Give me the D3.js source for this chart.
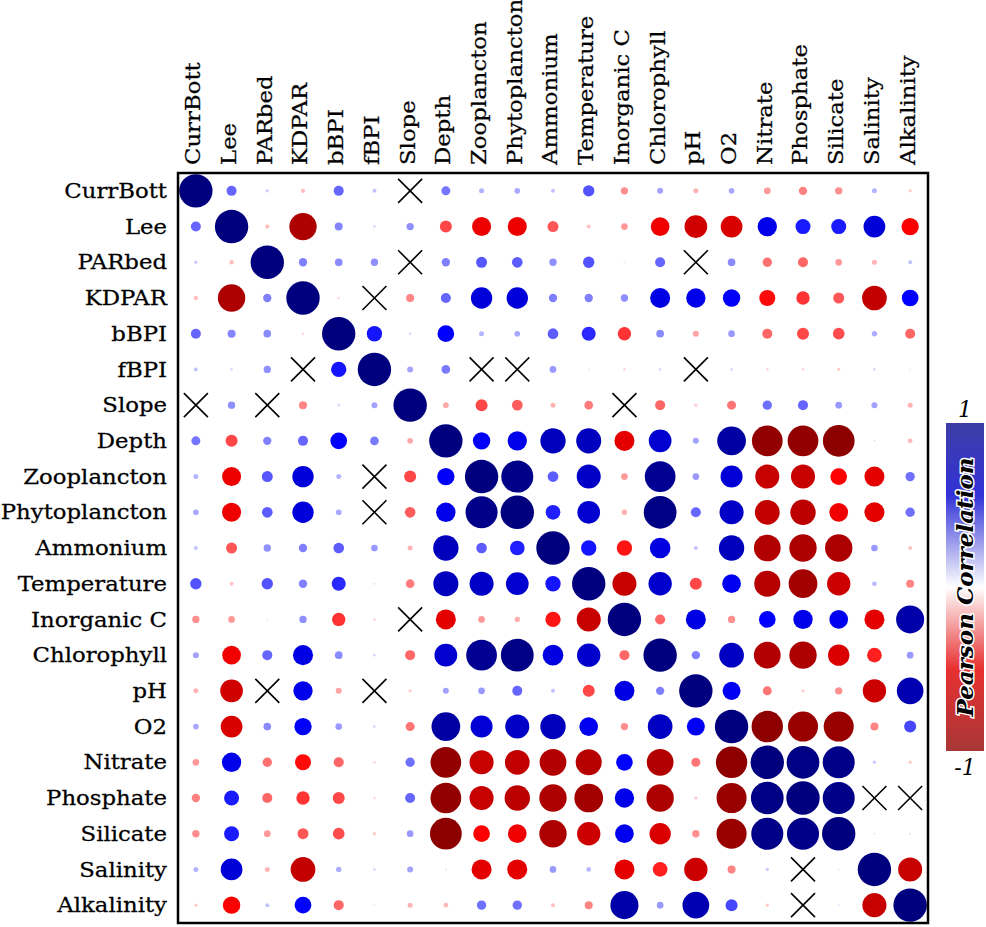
<!DOCTYPE html>
<html>
<head>
<meta charset="utf-8">
<script src="https://cdn.jsdelivr.net/npm/d3@7.9.0/dist/d3.min.js"></script>
<style>
  html, body { margin: 0; padding: 0; background: #fff; }
  svg { display: block; }
  .lbl { font-family: "DejaVu Serif", serif; font-size: 20px; fill: #000; stroke: #000; stroke-width: 0.25px; }
</style>
</head>
<body>
<div id="chart"></div>
<script>
const variables = ['CurrBott', 'Lee', 'PARbed', 'KDPAR', 'bBPI', 'fBPI', 'Slope', 'Depth',
  'Zooplancton', 'Phytoplancton', 'Ammonium', 'Temperature', 'Inorganic C', 'Chlorophyll',
  'pH', 'O2', 'Nitrate', 'Phosphate', 'Silicate', 'Salinity', 'Alkalinity'];

// null = not significant (drawn as a cross)
const corrRows = [
  [1, 0.30, 0.10, -0.13, 0.30, 0.12, null, 0.27, 0.15, 0.17, 0.12, 0.34, -0.22, 0.18, -0.15, 0.17, -0.20, -0.25, -0.22, 0.15, -0.10],
  [0.30, 1, -0.13, -0.82, 0.24, 0.08, 0.22, -0.36, -0.57, -0.57, -0.33, -0.12, -0.20, -0.56, -0.68, -0.65, 0.58, 0.45, 0.45, 0.65, -0.52],
  [0.10, -0.13, 1, 0.25, 0.23, 0.22, null, 0.25, 0.33, 0.32, 0.22, 0.34, -0.06, 0.30, null, 0.23, -0.28, -0.30, -0.20, -0.15, 0.12],
  [-0.13, -0.82, 0.25, 1, -0.08, null, -0.24, 0.30, 0.64, 0.64, 0.25, 0.25, 0.22, 0.60, 0.58, 0.52, -0.48, -0.40, -0.33, -0.74, 0.50],
  [0.30, 0.24, 0.23, -0.08, 1, 0.46, 0.08, 0.50, 0.15, 0.17, 0.32, 0.42, -0.40, 0.23, -0.18, 0.20, -0.30, -0.36, -0.35, 0.16, -0.30],
  [0.12, 0.08, 0.22, null, 0.46, 1, 0.18, 0.26, null, null, 0.20, 0.06, -0.08, 0.08, null, 0.08, -0.08, -0.08, -0.10, 0.08, -0.06],
  [null, 0.22, null, -0.24, 0.08, 0.18, 1, -0.17, -0.36, -0.32, -0.15, -0.26, null, -0.30, -0.10, -0.27, 0.28, 0.30, 0.20, 0.18, -0.15],
  [0.27, -0.36, 0.25, 0.30, 0.50, 0.26, -0.17, 1, 0.52, 0.58, 0.76, 0.75, -0.60, 0.68, 0.18, 0.86, -0.92, -0.92, -0.95, 0.06, -0.14],
  [0.15, -0.57, 0.33, 0.64, 0.15, null, -0.36, 0.52, 1, 0.96, 0.32, 0.72, -0.20, 0.92, 0.20, 0.66, -0.72, -0.72, -0.50, -0.60, 0.28],
  [0.17, -0.57, 0.32, 0.64, 0.17, null, -0.32, 0.58, 0.96, 1, 0.44, 0.68, -0.16, 0.98, 0.30, 0.72, -0.74, -0.76, -0.56, -0.60, 0.28],
  [0.12, -0.33, 0.22, 0.25, 0.32, 0.20, -0.15, 0.76, 0.32, 0.44, 1, 0.46, -0.46, 0.62, 0.12, 0.76, -0.80, -0.82, -0.82, 0.20, -0.12],
  [0.34, -0.12, 0.34, 0.25, 0.42, 0.06, -0.26, 0.75, 0.72, 0.68, 0.46, 1, -0.72, 0.70, -0.36, 0.56, -0.78, -0.86, -0.70, 0.14, -0.24],
  [-0.22, -0.20, -0.06, 0.22, -0.40, -0.08, null, -0.60, -0.20, -0.16, -0.46, -0.72, 1, -0.30, 0.60, -0.22, 0.50, 0.58, 0.56, -0.60, 0.84],
  [0.18, -0.56, 0.30, 0.60, 0.23, 0.08, -0.30, 0.68, 0.92, 0.98, 0.62, 0.70, -0.30, 1, 0.25, 0.74, -0.80, -0.82, -0.64, -0.44, 0.20],
  [-0.15, -0.68, null, 0.58, -0.18, null, -0.10, 0.18, 0.20, 0.30, 0.12, -0.36, 0.60, 0.25, 1, 0.54, -0.27, -0.10, -0.22, -0.70, 0.80],
  [0.17, -0.65, 0.23, 0.52, 0.20, 0.08, -0.27, 0.86, 0.66, 0.72, 0.76, 0.56, -0.22, 0.74, 0.54, 1, -0.94, -0.90, -0.90, -0.24, 0.36],
  [-0.20, 0.58, -0.28, -0.48, -0.30, -0.08, 0.28, -0.92, -0.72, -0.74, -0.80, -0.78, 0.50, -0.80, -0.27, -0.94, 1, 0.98, 0.96, 0.10, -0.10],
  [-0.25, 0.45, -0.30, -0.40, -0.36, -0.08, 0.30, -0.92, -0.72, -0.76, -0.82, -0.86, 0.58, -0.82, -0.10, -0.90, 0.98, 1, 0.96, null, null],
  [-0.22, 0.45, -0.20, -0.33, -0.35, -0.10, 0.20, -0.95, -0.50, -0.56, -0.82, -0.70, 0.56, -0.64, -0.22, -0.90, 0.96, 0.96, 1, -0.06, 0.06],
  [0.15, 0.65, -0.15, -0.74, 0.16, 0.08, 0.18, 0.06, -0.60, -0.60, 0.20, 0.14, -0.60, -0.44, -0.70, -0.24, 0.10, null, -0.06, 1, -0.72],
  [-0.10, -0.52, 0.12, 0.50, -0.30, -0.06, -0.15, -0.14, 0.28, 0.28, -0.12, -0.24, 0.84, 0.20, 0.80, 0.36, -0.10, null, 0.06, -0.72, 1]
];

const legendTicks = ['1', '-1'];
const legendTitle = 'Pearson Correlation';

const width = 986, height = 927;
const grid = { left: 178, top: 173, size: 750 };

const svg = d3.select('#chart').append('svg')
  .attr('width', width)
  .attr('height', height);

const x = d3.scaleBand().domain(variables).range([grid.left, grid.left + grid.size]);
const y = d3.scaleBand().domain(variables).range([grid.top, grid.top + grid.size]);
const rScale = d3.scaleLinear().domain([0, 1]).range([0, 16.7]);
const color = d3.scaleLinear()
  .domain([-1, -0.5, 0, 0.5, 1])
  .range(['#7f0000', '#ff0000', '#ffffff', '#0000ff', '#00007f']);

const cells = corrRows.flatMap((row, i) => row.map((v, j) => ({
  row: variables[i], col: variables[j], value: v
})));

// circles
svg.append('g')
  .selectAll('circle')
  .data(cells.filter(d => d.value !== null))
  .join('circle')
  .attr('cx', d => x(d.col) + x.bandwidth() / 2)
  .attr('cy', d => y(d.row) + y.bandwidth() / 2)
  .attr('r', d => rScale(Math.abs(d.value)))
  .attr('fill', d => color(d.value));

// crosses for non-significant pairs
const cross = 12;
const crosses = svg.append('g')
  .selectAll('g')
  .data(cells.filter(d => d.value === null))
  .join('g')
  .attr('transform', d => `translate(${x(d.col) + x.bandwidth() / 2},${y(d.row) + y.bandwidth() / 2})`)
  .attr('stroke', '#000')
  .attr('stroke-width', 1.6);
crosses.append('line').attr('x1', -cross).attr('y1', -cross).attr('x2', cross).attr('y2', cross);
crosses.append('line').attr('x1', -cross).attr('y1', cross).attr('x2', cross).attr('y2', -cross);

// frame
svg.append('rect')
  .attr('x', grid.left).attr('y', grid.top)
  .attr('width', grid.size).attr('height', grid.size)
  .attr('fill', 'none')
  .attr('stroke', '#000')
  .attr('stroke-width', 2.5);

// row labels
svg.append('g')
  .selectAll('text')
  .data(variables)
  .join('text')
  .attr('class', 'lbl')
  .attr('transform', d => `translate(167,${y(d) + y.bandwidth() / 2}) scale(1.14,1)`)
  .attr('dy', '0.36em')
  .attr('text-anchor', 'end')
  .text(d => d);

// column labels
svg.append('g')
  .selectAll('text')
  .data(variables)
  .join('text')
  .attr('class', 'lbl')
  .attr('transform', d => `translate(${x(d) + x.bandwidth() / 2},165) rotate(-90) scale(1.14,1)`)
  .attr('dy', '0.22em')
  .attr('text-anchor', 'start')
  .text(d => d);

// colour bar
const bar = { x: 946, y: 423, w: 38, h: 328 };
const grad = svg.append('defs').append('linearGradient')
  .attr('id', 'corrGrad')
  .attr('x1', 0).attr('y1', 0).attr('x2', 0).attr('y2', 1);
[[0, '#3d3da6'], [0.22, '#3232d8'], [0.5, '#ffffff'], [0.75, '#e83030'], [1, '#a83636']]
  .forEach(([o, c]) => grad.append('stop').attr('offset', o).attr('stop-color', c));

svg.append('rect')
  .attr('x', bar.x).attr('y', bar.y)
  .attr('width', bar.w).attr('height', bar.h)
  .attr('fill', 'url(#corrGrad)');

const legendScale = d3.scaleLinear().domain([1, -1]).range([bar.y, bar.y + bar.h]);

svg.append('g')
  .selectAll('text')
  .data(legendTicks)
  .join('text')
  .attr('x', bar.x + bar.w / 2)
  .attr('y', d => +d > 0 ? legendScale(+d) - 6 : legendScale(+d) + 24)
  .attr('text-anchor', 'middle')
  .style('font-family', '"DejaVu Serif", serif')
  .style('font-style', 'italic')
  .style('font-size', '22px')
  .text(d => d);

svg.append('text')
  .attr('transform', `translate(${bar.x + bar.w / 2},${legendScale(0)}) rotate(-90)`)
  .attr('dy', '0.35em')
  .attr('text-anchor', 'middle')
  .style('font-family', '"DejaVu Serif", serif')
  .style('font-style', 'italic')
  .style('font-weight', 'bold')
  .style('font-size', '23px')
  .attr('fill', '#000')
  .attr('stroke', '#fff')
  .attr('stroke-width', 3)
  .attr('paint-order', 'stroke')
  .text(legendTitle);
</script>
</body>
</html>
